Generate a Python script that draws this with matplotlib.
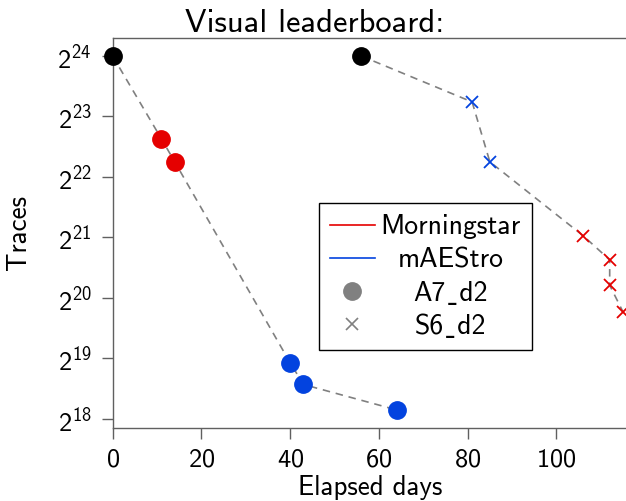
import numpy as np
import matplotlib
matplotlib.use("Agg")
import matplotlib.pyplot as plt
from matplotlib.lines import Line2D
from matplotlib.ticker import NullLocator

plt.rcParams['font.family'] = ['cmss10', 'DejaVu Sans']
plt.rcParams['mathtext.fontset'] = 'custom'
plt.rcParams['mathtext.rm'] = 'cmss10'
plt.rcParams['mathtext.it'] = 'cmss10'
plt.rcParams['mathtext.bf'] = 'cmss10'
plt.rcParams['axes.formatter.use_mathtext'] = True

# A7_d2 run (circles)
a7_days = [0, 11, 14, 40, 43, 64]
a7_log2_traces = [24, 22.63, 22.25, 18.93, 18.57, 18.15]
a7_team = ['baseline', 'Morningstar', 'Morningstar', 'mAEStro', 'mAEStro', 'mAEStro']

# S6_d2 run (crosses)
s6_days = [56, 81, 85, 106, 112, 112, 115]
s6_log2_traces = [24, 23.24, 22.25, 21.03, 20.63, 20.21, 19.77]
s6_team = ['baseline', 'mAEStro', 'mAEStro', 'Morningstar', 'Morningstar', 'Morningstar', 'Morningstar']

team_colors = {'baseline': 'black', 'Morningstar': 'xkcd:red', 'mAEStro': 'xkcd:blue'}
edge = '#606060'

fig = plt.figure(figsize=(6.26, 5.01), dpi=100)
ax = fig.add_axes([112.6 / 626, 73 / 501, 514.4 / 626, 390 / 501])

for days, log2t, team, mk in [(a7_days, a7_log2_traces, a7_team, 'o'),
                              (s6_days, s6_log2_traces, s6_team, 'x')]:
    traces = 2.0 ** np.array(log2t)
    ax.plot(days, traces, color='gray', lw=1.2, ls=(0, (4.5, 3.5)), zorder=1)
    for d, t, tm in zip(days, traces, team):
        if tm == 'baseline':
            ax.plot(d, t, 'o', color='black', ms=12.5, zorder=3, clip_on=False)
        elif mk == 'o':
            ax.plot(d, t, 'o', color=team_colors[tm], ms=12.5, zorder=3, clip_on=False)
        else:
            ax.plot(d, t, 'x', color=team_colors[tm], ms=9, mew=1.3, zorder=3, clip_on=False)

ax.set_yscale('log', base=2)
ax.yaxis.set_minor_locator(NullLocator())
ax.set_xlim(0, 115.9)
ax.set_ylim(2 ** 17.851, 2 ** 24.297)
ax.set_xticks([0, 20, 40, 60, 80, 100])

for s in ax.spines.values():
    s.set_color(edge)
    s.set_linewidth(1.0)
ax.tick_params(length=8, width=1, color=edge, labelsize=19, pad=7)

ax.set_xlabel('Elapsed days', fontsize=19.5)
ax.set_ylabel('Traces', fontsize=19.5)
ax.xaxis.set_label_coords(0.5, -0.12)
ax.yaxis.set_label_coords(-0.158, 0.5)
fig.text(0.502, 1 - 32 / 501, 'Visual leaderboard:', fontsize=23.4, ha='center', va='baseline')

handles = [Line2D([], [], color='xkcd:red', lw=1.2),
           Line2D([], [], color='xkcd:blue', lw=1.2),
           Line2D([], [], ls='', marker='o', color='gray', ms=12.5),
           Line2D([], [], ls='', marker='x', color='gray', ms=9, mew=1.2)]
labels = ['Morningstar', 'mAEStro', 'A7\u02cdd2', 'S6\u02cdd2']
leg = ax.legend(handles, labels, loc='upper left', bbox_to_anchor=(319 / 626, 1 - 203.3 / 501),
                bbox_transform=fig.transFigure, borderaxespad=0, fontsize=20, fancybox=False,
                framealpha=1, edgecolor='black', handlelength=1.6, handletextpad=0.22,
                borderpad=0.4, labelspacing=0.29)
leg.get_frame().set_linewidth(1.0)

fig.canvas.draw()
r = fig.canvas.get_renderer()
widths = [t.get_window_extent(r).width for t in leg.get_texts()]
for t, w in zip(leg.get_texts(), widths):
    t.set_ha('center')
    t.set_position(((max(widths) - w) / 2, 0))

fig.savefig('out.png', dpi=100)
